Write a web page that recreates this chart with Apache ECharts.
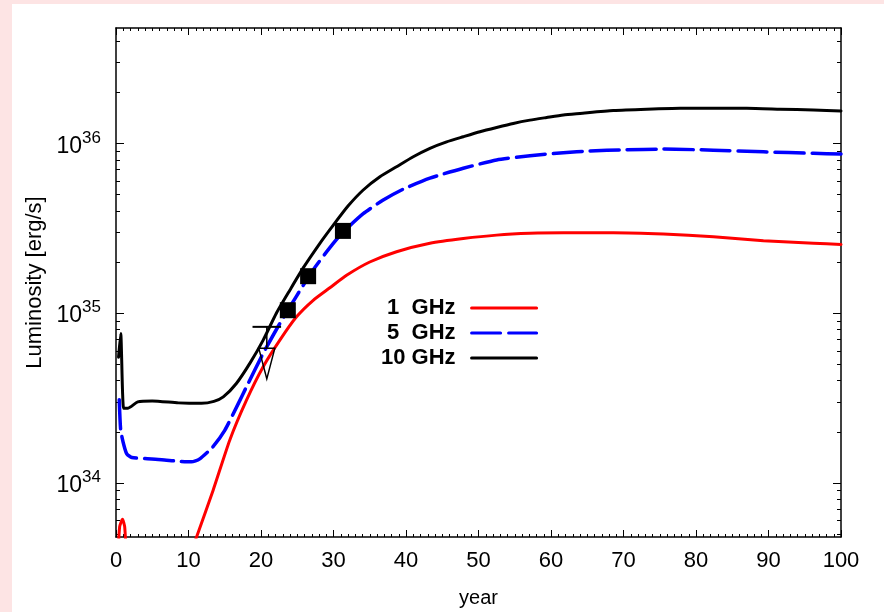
<!DOCTYPE html>
<html>
<head>
<meta charset="utf-8">
<title>Luminosity vs year</title>
<script src="https://cdn.jsdelivr.net/npm/echarts@6/dist/echarts.min.js"></script>
<style>
html, body { margin: 0; padding: 0; background: #fde4e4; }
#main { width: 884px; height: 612px; }
</style>
</head>
<body>
<div id="main"></div>
<script>
// light curves, luminosity in erg/s against years
var years1 = [0.2, 0.5, 0.9, 1.2, 1.5, 5, 10.5, 11.1, 13.4, 15.7, 18.0, 20.3, 22.6, 24.9, 27.2, 29.5, 31.8, 35.0, 38.7, 43.3, 47.9, 52.5, 57.1, 61.7, 68.6, 75.5, 82.4, 89.3, 96.2, 100];
var lum1 = [3.16e33, 5.5e33, 6.1e33, 5.5e33, 3.16e33, null, 4.07e33, 4.79e33, 9.06e33, 1.79e34, 3.07e34, 4.83e34, 6.93e34, 9.51e34, 1.19e35, 1.41e35, 1.67e35, 2.0e35, 2.30e35, 2.58e35, 2.75e35, 2.88e35, 2.95e35, 2.97e35, 2.97e35, 2.92e35, 2.82e35, 2.67e35, 2.58e35, 2.54e35];

var years5 = [0.45, 0.65, 1.1, 1.5, 2.2, 4.0, 6.3, 8.6, 10.4, 11.5, 13.3, 15.0, 16.9, 18.0, 20.3, 22.6, 24.9, 27.2, 29.5, 31.3, 34.1, 36.8, 39.6, 43.3, 47.9, 52.5, 57.1, 61.7, 65.4, 70, 75.5, 82.4, 89.3, 96.2, 100];
var lum5 = [3.09e34, 2.04e34, 1.66e34, 1.48e34, 1.41e34, 1.39e34, 1.37e34, 1.34e34, 1.33e34, 1.38e34, 1.62e34, 2.04e34, 2.95e34, 3.68e34, 5.79e34, 8.69e34, 1.26e35, 1.80e35, 2.43e35, 2.99e35, 3.85e35, 4.62e35, 5.37e35, 6.24e35, 7.13e35, 7.98e35, 8.45e35, 8.81e35, 9.02e35, 9.16e35, 9.25e35, 9.12e35, 8.91e35, 8.73e35, 8.65e35];

var years10 = [0.35, 0.65, 1.05, 1.6, 3, 5, 8.6, 11.8, 13.5, 14.8, 16.6, 18.5, 20.3, 22.1, 24.0, 25.8, 28.1, 30.0, 32.0, 34.1, 36.4, 38.7, 41.0, 43.3, 45.6, 47.9, 50.2, 52.5, 54.8, 57.1, 59.4, 61.7, 64, 68.6, 73.2, 77.8, 82.4, 87.0, 91.6, 96.2, 100];
var lum10 = [5.5e34, 7.59e34, 2.75e34, 2.75e34, 3.0e34, 3.04e34, 2.96e34, 2.94e34, 3.02e34, 3.21e34, 3.85e34, 5.09e34, 6.93e34, 9.95e34, 1.37e35, 1.84e35, 2.57e35, 3.31e35, 4.27e35, 5.31e35, 6.35e35, 7.28e35, 8.34e35, 9.35e35, 1.021e36, 1.094e36, 1.17e36, 1.24e36, 1.31e36, 1.37e36, 1.42e36, 1.47e36, 1.50e36, 1.56e36, 1.59e36, 1.61e36, 1.61e36, 1.61e36, 1.59e36, 1.57e36, 1.55e36];

// detections (filled squares)
var detYears = [23.7, 26.5, 31.3];
var detLum = [1.04e35, 1.65e35, 3.05e35];

// upper limit: bar with year error, open triangle below
var limYear = [20.8];
var limYearErr = [1.97];
var limBarLum = [8.3e34];
var limTopLum = [6.2e34];
var limTipLum = [4.1e34];

var seriesNames = ['1  GHz', '5  GHz', '10 GHz'];
var decades = [34, 35, 36];
var lumMin = 4.8e33, lumMax = 4.78e36;

var FONT = 'Liberation Sans, Arial, sans-serif';
var ymin = Math.log10(lumMin), ymax = Math.log10(lumMax);

function pairs(xs, ys) {
    return xs.map(function (x, i) {
        return ys[i] == null ? '-' : [x, Math.log10(ys[i])];
    });
}

// minor ticks at 2..9 x 10^n
var minorVals = [];
for (var n = 33; n <= 36; n++) {
    for (var k = 2; k <= 9; k++) {
        var v = n + Math.log10(k);
        if (v > ymin && v < ymax) minorVals.push(v);
    }
}

function yAxisOf(pos, vals, len, withLabel, withLine) {
    return {
        type: 'value', position: pos, min: ymin, max: ymax,
        axisLine: { show: withLine, onZero: false, lineStyle: { color: '#000', width: 1.5 } },
        axisTick: { show: true, inside: true, length: len, customValues: vals, lineStyle: { color: '#000', width: 1 } },
        axisLabel: withLabel ? {
            show: true, customValues: vals, margin: 15, padding: [6, 0, 0, 0],
            formatter: function (v) { return '{b|10}{s|' + Math.round(v) + '}'; },
            rich: {
                b: { fontFamily: FONT, fontSize: 23, color: '#000', lineHeight: 34 },
                s: { fontFamily: FONT, fontSize: 17, color: '#000', lineHeight: 17, verticalAlign: 'top' }
            }
        } : { show: false },
        splitLine: { show: false },
        name: withLabel ? 'Luminosity [erg/s]' : '',
        nameLocation: 'middle', nameGap: 69,
        nameTextStyle: { fontFamily: FONT, fontSize: 22, color: '#000' }
    };
}

function xAxisOf(pos, withLabel) {
    return {
        type: 'value', position: pos, min: 0, max: 100, interval: 10,
        axisLine: { show: true, onZero: false, lineStyle: { color: '#000', width: 1.5 } },
        axisTick: { inside: true, length: 7, lineStyle: { color: '#000', width: 1 } },
        minorTick: { show: true, splitNumber: 10, length: 3, lineStyle: { color: '#000', width: 1 } },
        axisLabel: withLabel ? { show: true, margin: 13, fontFamily: FONT, fontSize: 22, color: '#000' } : { show: false },
        splitLine: { show: false },
        minorSplitLine: { show: false },
        name: withLabel ? 'year' : '',
        nameLocation: 'middle', nameGap: 51,
        nameTextStyle: { fontFamily: FONT, fontSize: 20, color: '#000' }
    };
}

function lineSeries(name, xs, ys, color, width, type) {
    return {
        name: name, type: 'line', data: pairs(xs, ys),
        xAxisIndex: 0, yAxisIndex: 0,
        symbol: 'none', showSymbol: false, clip: true, smooth: 0.2,
        lineStyle: { color: color, width: width, type: type, cap: 'round', join: 'round' },
        itemStyle: { color: color },
        emphasis: { disabled: true }
    };
}

var myChart = echarts.init(document.getElementById('main'));
myChart.setOption({
    animation: false,
    backgroundColor: '#fde4e4',
    graphic: [{
        type: 'rect', z: -10, silent: true,
        shape: { x: 12, y: 4, width: 872, height: 608 },
        style: { fill: '#ffffff' }
    }],
    grid: { left: 116, right: 43, top: 28, bottom: 75, outerBoundsMode: 'none' },
    xAxis: [xAxisOf('bottom', true), xAxisOf('top', false)],
    yAxis: [
        yAxisOf('left', decades, 8, true, true),
        yAxisOf('left', minorVals, 4, false, false),
        yAxisOf('right', decades, 8, false, true),
        yAxisOf('right', minorVals, 4, false, false)
    ],
    legend: {
        orient: 'vertical', align: 'right', left: 381, top: 297, padding: 0,
        itemGap: 3, itemWidth: 65, itemHeight: 14,
        selectedMode: false,
        itemStyle: { opacity: 0 },
        lineStyle: { width: 3 },
        textStyle: { fontFamily: FONT, fontSize: 22, fontWeight: 'bold', color: '#000', padding: [0, 11, 0, 0] },
        data: seriesNames
    },
    series: [
        lineSeries(seriesNames[0], years1, lum1, '#ff0000', 3, 'solid'),
        lineSeries(seriesNames[1], years5, lum5, '#0000ff', 3.5, [29, 8]),
        lineSeries(seriesNames[2], years10, lum10, '#000000', 3, 'solid'),
        {
            type: 'scatter', symbol: 'rect', symbolSize: 16,
            data: pairs(detYears, detLum),
            itemStyle: { color: '#000', opacity: 1 }, z: 5,
            emphasis: { disabled: true }
        },
        {
            type: 'custom', z: 5,
            encode: { x: 0, y: 2 },
            data: limYear.map(function (t, i) {
                return [t, limYearErr[i], Math.log10(limBarLum[i]), Math.log10(limTopLum[i]), Math.log10(limTipLum[i])];
            }),
            renderItem: function (params, api) {
                var t = api.value(0), e = api.value(1);
                var l = api.coord([t - e, api.value(2)]);
                var r = api.coord([t + e, api.value(2)]);
                var c = api.coord([t, api.value(2)]);
                var top = api.coord([t, api.value(3)]);
                var tip = api.coord([t, api.value(4)]);
                var hw = 7;
                return {
                    type: 'group',
                    children: [
                        { type: 'line', shape: { x1: l[0], y1: l[1], x2: r[0], y2: r[1] }, style: { stroke: '#000', lineWidth: 2 } },
                        { type: 'line', shape: { x1: c[0], y1: c[1], x2: top[0], y2: top[1] }, style: { stroke: '#000', lineWidth: 1.5 } },
                        { type: 'polygon', shape: { points: [[top[0] - hw - 1, top[1]], [top[0] + hw + 1, top[1]], [tip[0], tip[1]]] }, style: { stroke: '#000', fill: 'none', lineWidth: 1.5 } }
                    ]
                };
            }
        }
    ]
});
</script>
</body>
</html>
